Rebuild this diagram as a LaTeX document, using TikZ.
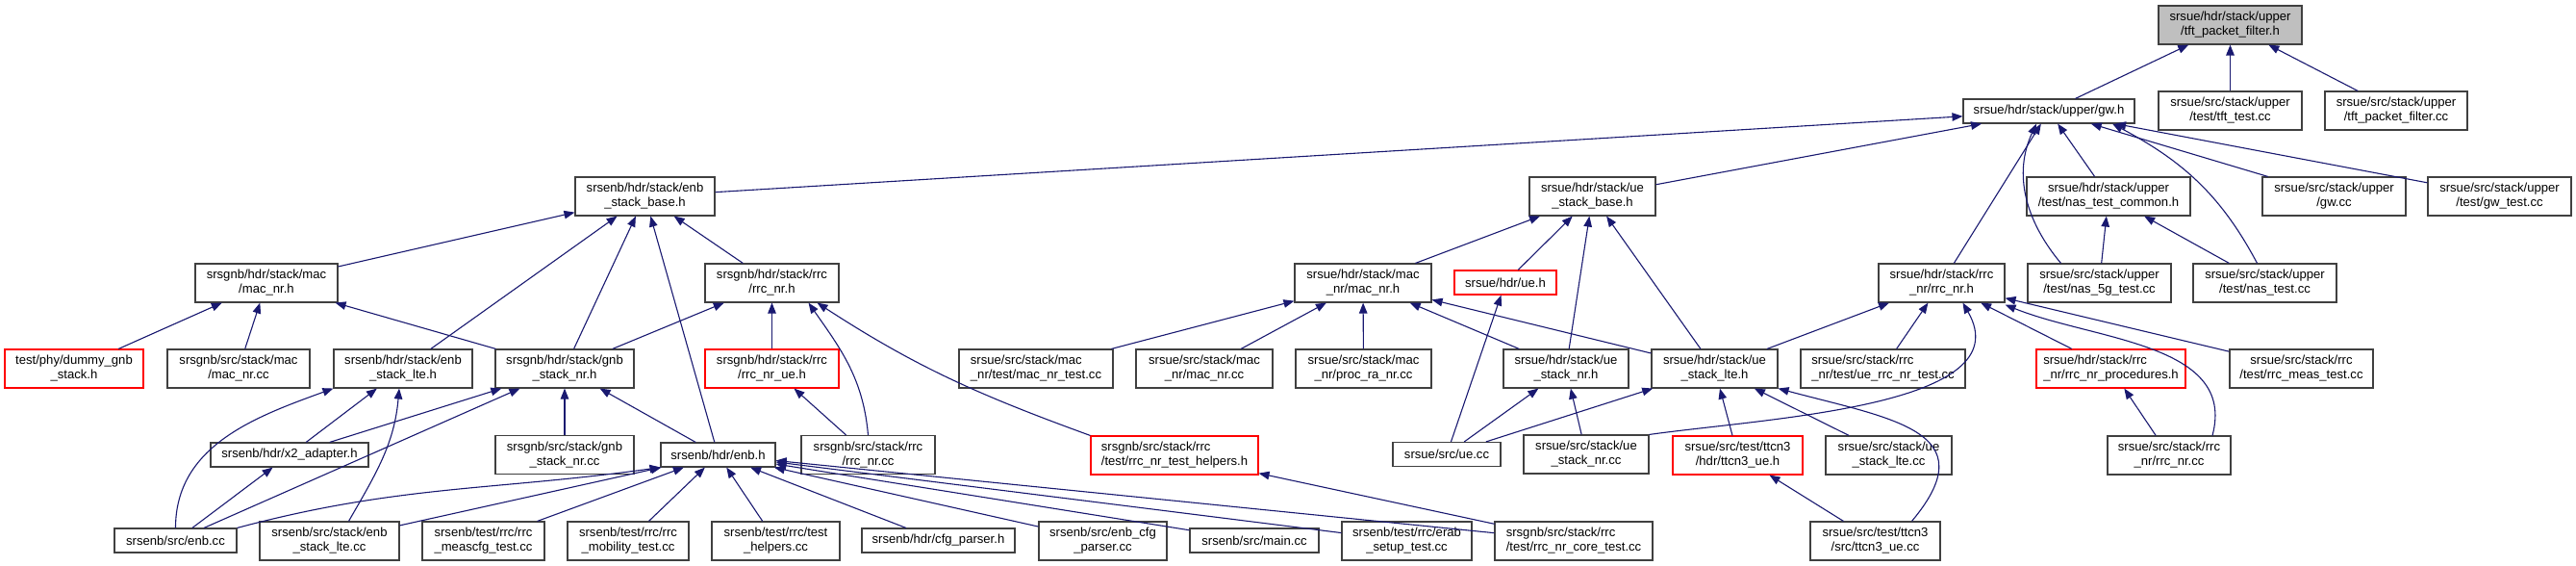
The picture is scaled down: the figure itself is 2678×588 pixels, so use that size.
\documentclass[tikz,border=0pt]{standalone}
\usepackage{fontspec}
\setmainfont{Liberation Sans}
\usetikzlibrary{arrows.meta}
\definecolor{edgeblue}{HTML}{191970}

\begin{document}
\begin{tikzpicture}[x=1pt,y=-1pt,
  file/.style={draw=black!75, fill=white, line width=1.1pt, inner sep=0pt,
    minimum height=40pt, align=center, font=\fontsize{13.1}{15}\selectfont},
  oneline/.style={minimum height=25pt},
  trunc/.style={draw=red},
  root/.style={fill=black!25},
  dep/.style={draw=edgeblue, line width=1.1pt, -{Triangle[length=11pt,width=8.5pt]}}]
  \useasboundingbox (0,0) rectangle (2678,588);

  \node[file, root, minimum width=149pt] (TFT) at (2318.5,26) {srsue/hdr/stack/upper\\/tft\_packet\_filter.h};
  \node[file, minimum width=149pt] (TftTest) at (2318.5,115) {srsue/src/stack/upper\\/test/tft\_test.cc};
  \node[file, minimum width=148pt] (TftCc) at (2491,115) {srsue/src/stack/upper\\/tft\_packet\_filter.cc};
  \node[file, oneline, minimum width=178pt] (GwH) at (2130,115.5) {srsue/hdr/stack/upper/gw.h};

  \node[file, minimum width=145pt] (EnbBase) at (670.5,204) {srsenb/hdr/stack/enb\\\_stack\_base.h};
  \node[file, minimum width=131pt] (UeBase) at (1655.5,204) {srsue/hdr/stack/ue\\\_stack\_base.h};
  \node[file, minimum width=170pt] (NasCommon) at (2192,204) {srsue/hdr/stack/upper\\/test/nas\_test\_common.h};
  \node[file, minimum width=149pt] (GwCc) at (2426.5,204) {srsue/src/stack/upper\\/gw.cc};
  \node[file, minimum width=149pt] (GwTest) at (2598.5,204) {srsue/src/stack/upper\\/test/gw\_test.cc};

  \node[file, minimum width=148pt] (GnbMac) at (277,294) {srsgnb/hdr/stack/mac\\/mac\_nr.h};
  \node[file, minimum width=139pt] (GnbRrc) at (802.5,294) {srsgnb/hdr/stack/rrc\\/rrc\_nr.h};
  \node[file, minimum width=142pt] (UeMac) at (1417,294) {srsue/hdr/stack/mac\\\_nr/mac\_nr.h};
  \node[file, oneline, trunc, minimum width=106pt] (UeH) at (1565,293.5) {srsue/hdr/ue.h};
  \node[file, minimum width=131pt] (UeRrc) at (2018.5,294) {srsue/hdr/stack/rrc\\\_nr/rrc\_nr.h};
  \node[file, minimum width=149pt] (Nas5g) at (2182.5,294) {srsue/src/stack/upper\\/test/nas\_5g\_test.cc};
  \node[file, minimum width=149pt] (NasTest) at (2354.5,294) {srsue/src/stack/upper\\/test/nas\_test.cc};

  \node[file, trunc, minimum width=144pt] (Dummy) at (77,383) {test/phy/dummy\_gnb\\\_stack.h};
  \node[file, minimum width=148pt] (GnbMacCc) at (248,383) {srsgnb/src/stack/mac\\/mac\_nr.cc};
  \node[file, minimum width=144pt] (EnbLte) at (419,383) {srsenb/hdr/stack/enb\\\_stack\_lte.h};
  \node[file, minimum width=144pt] (GnbStack) at (587,383) {srsgnb/hdr/stack/gnb\\\_stack\_nr.h};
  \node[file, trunc, minimum width=139pt] (RrcNrUe) at (802.5,383) {srsgnb/hdr/stack/rrc\\/rrc\_nr\_ue.h};
  \node[file, align=left, minimum width=160pt] (MacNrTest) at (1077,383) {srsue/src/stack/mac\\\_nr/test/mac\_nr\_test.cc};
  \node[file, minimum width=142pt] (UeMacCc) at (1252,383) {srsue/src/stack/mac\\\_nr/mac\_nr.cc};
  \node[file, minimum width=141pt] (ProcRa) at (1417.5,383) {srsue/src/stack/mac\\\_nr/proc\_ra\_nr.cc};
  \node[file, minimum width=130pt] (UeStackNr) at (1628,383) {srsue/hdr/stack/ue\\\_stack\_nr.h};
  \node[file, minimum width=131pt] (UeStackLte) at (1782.5,383) {srsue/hdr/stack/ue\\\_stack\_lte.h};
  \node[file, align=left, minimum width=171pt] (UeRrcTest) at (1957.5,383) {srsue/src/stack/rrc\\\_nr/test/ue\_rrc\_nr\_test.cc};
  \node[file, trunc, align=left, minimum width=155pt] (RrcProc) at (2194.5,383) {srsue/hdr/stack/rrc\\\_nr/rrc\_nr\_procedures.h};
  \node[file, minimum width=149pt] (RrcMeas) at (2392.5,383) {srsue/src/stack/rrc\\/test/rrc\_meas\_test.cc};

  \node[file, oneline, minimum width=164pt] (X2) at (301,472.5) {srsenb/hdr/x2\_adapter.h};
  \node[file, minimum width=144pt] (GnbStackCc) at (587,472.5) {srsgnb/src/stack/gnb\\\_stack\_nr.cc};
  \node[file, oneline, minimum width=119pt] (EnbH) at (746.5,472.5) {srsenb/hdr/enb.h};
  \node[file, minimum width=139pt] (GnbRrcCc) at (902.5,472.5) {srsgnb/src/stack/rrc\\/rrc\_nr.cc};
  \node[file, trunc, align=left, minimum width=174pt] (Helpers) at (1221,473) {srsgnb/src/stack/rrc\\/test/rrc\_nr\_test\_helpers.h};
  \node[file, oneline, minimum width=112pt] (UeCc) at (1504,472) {srsue/src/ue.cc};
  \node[file, minimum width=130pt] (UeStackNrCc) at (1649,472) {srsue/src/stack/ue\\\_stack\_nr.cc};
  \node[file, trunc, minimum width=135pt] (TtcnH) at (1806.5,473) {srsue/src/test/ttcn3\\/hdr/ttcn3\_ue.h};
  \node[file, minimum width=131pt] (UeStackLteCc) at (1963.5,473) {srsue/src/stack/ue\\\_stack\_lte.cc};
  \node[file, minimum width=128pt] (UeRrcCc) at (2255,473) {srsue/src/stack/rrc\\\_nr/rrc\_nr.cc};

  \node[file, oneline, minimum width=127pt] (EnbCc) at (182.5,561.5) {srsenb/src/enb.cc};
  \node[file, minimum width=145pt] (EnbLteCc) at (342.5,562) {srsenb/src/stack/enb\\\_stack\_lte.cc};
  \node[file, minimum width=127pt] (MeasCfg) at (502.5,562) {srsenb/test/rrc/rrc\\\_meascfg\_test.cc};
  \node[file, minimum width=126pt] (Mobility) at (653,562) {srsenb/test/rrc/rrc\\\_mobility\_test.cc};
  \node[file, minimum width=133pt] (TestHelpers) at (806.5,562) {srsenb/test/rrc/test\\\_helpers.cc};
  \node[file, oneline, minimum width=159pt] (CfgParser) at (975.5,561.5) {srsenb/hdr/cfg\_parser.h};
  \node[file, minimum width=133pt] (EnbCfg) at (1146.5,562) {srsenb/src/enb\_cfg\\\_parser.cc};
  \node[file, oneline, minimum width=134pt] (MainCc) at (1304,561.5) {srsenb/src/main.cc};
  \node[file, minimum width=135pt] (Erab) at (1462.5,562) {srsenb/test/rrc/erab\\\_setup\_test.cc};
  \node[file, align=left, minimum width=164pt] (CoreTest) at (1636,562) {srsgnb/src/stack/rrc\\/test/rrc\_nr\_core\_test.cc};
  \node[file, minimum width=135pt] (TtcnCc) at (1949.5,562) {srsue/src/test/ttcn3\\/src/ttcn3\_ue.cc};

  \draw[dep] (GwH) -- (TFT);
  \draw[dep] (TftTest) -- (TFT);
  \draw[dep] (TftCc) -- (TFT);
  \draw[dep] (EnbBase) -- (GwH);
  \draw[dep] (UeBase) -- (GwH);
  \draw[dep] (UeRrc) -- (GwH);
  \draw[dep] (NasCommon) -- (GwH);
  \draw[dep] ([xshift=-40pt]Nas5g.north) to[out=130,in=-115] ([xshift=-13pt]GwH.south);
  \draw[dep] ([xshift=-8pt]NasTest.north) to[out=118,in=-28] ([xshift=66pt]GwH.south);
  \draw[dep] (GwCc) -- (GwH);
  \draw[dep] (GwTest) -- (GwH);

  \draw[dep] (GnbMac) -- (EnbBase);
  \draw[dep] (EnbLte) -- (EnbBase);
  \draw[dep] (GnbStack) -- (EnbBase);
  \draw[dep] (EnbH) -- (EnbBase);
  \draw[dep] (GnbRrc) -- (EnbBase);
  \draw[dep] (Dummy) -- (GnbMac);
  \draw[dep] (GnbMacCc) -- (GnbMac);
  \draw[dep] (GnbStack) -- (GnbMac);
  \draw[dep] (GnbStack) -- (GnbRrc);
  \draw[dep] (RrcNrUe) -- (GnbRrc);
  \draw[dep] (GnbRrcCc.north) to[out=95,in=-55] ([xshift=38pt]GnbRrc.south);
  \draw[dep] (Helpers.north west) to[out=160,in=-33] ([xshift=47pt]GnbRrc.south);
  \draw[dep] (GnbRrcCc) -- (RrcNrUe);

  \draw[dep] (EnbCc.north) to[out=90,in=-160] (EnbLte.south west);
  \draw[dep] (X2) -- (EnbLte);
  \draw[dep] ([xshift=20pt]EnbLteCc.north) to[out=60,in=-95] ([xshift=-4pt]EnbLte.south);
  \draw[dep] (X2) -- (GnbStack);
  \draw[dep] (EnbCc) -- (GnbStack);
  \draw[dep] (GnbStackCc) -- (GnbStack);
  \draw[dep] (EnbH) -- (GnbStack);
  \draw[dep] (EnbCc) -- (X2);
  \draw[dep] (EnbCc.north east) to[out=15,in=-172] (EnbH.south west);
  \draw[dep] (EnbLteCc) -- (EnbH);
  \draw[dep] (MeasCfg) -- (EnbH);
  \draw[dep] (Mobility) -- (EnbH);
  \draw[dep] (TestHelpers) -- (EnbH);
  \draw[dep] (CfgParser) -- (EnbH);
  \draw[dep] (EnbCfg) -- (EnbH);
  \draw[dep] (MainCc) -- (EnbH);
  \draw[dep] (Erab) -- (EnbH);
  \draw[dep] (CoreTest) -- (EnbH);
  \draw[dep] (CoreTest) -- (Helpers);

  \draw[dep] (UeMac) -- (UeBase);
  \draw[dep] (UeH) -- (UeBase);
  \draw[dep] (UeStackNr) -- (UeBase);
  \draw[dep] (UeStackLte) -- (UeBase);
  \draw[dep] (MacNrTest) -- (UeMac);
  \draw[dep] (UeMacCc) -- (UeMac);
  \draw[dep] (ProcRa) -- (UeMac);
  \draw[dep] (UeStackNr) -- (UeMac);
  \draw[dep] (UeStackLte) -- (UeMac);
  \draw[dep] (UeCc) -- (UeH);
  \draw[dep] (UeCc) -- (UeStackNr);
  \draw[dep] (UeStackNrCc) -- (UeStackNr);
  \draw[dep] (UeCc) -- (UeStackLte);
  \draw[dep] (TtcnH) -- (UeStackLte);
  \draw[dep] (UeStackLteCc) -- (UeStackLte);
  \draw[dep] ([xshift=38pt]TtcnCc.north) to[out=50,in=-15,looseness=1.6] (UeStackLte.south east);
  \draw[dep] (TtcnCc) -- (TtcnH);

  \draw[dep] (UeStackLte) -- (UeRrc);
  \draw[dep] (UeRrcTest) -- (UeRrc);
  \draw[dep] (UeStackNrCc.north east) to[out=8,in=-60,looseness=0.9] ([xshift=22pt]UeRrc.south);
  \draw[dep] (RrcProc) -- (UeRrc);
  \draw[dep] (RrcMeas) -- (UeRrc);
  \draw[dep] ([xshift=45pt]UeRrcCc.north) to[out=75,in=-22] ([yshift=-2pt]UeRrc.south east);
  \draw[dep] (UeRrcCc) -- (RrcProc);
  \draw[dep] (Nas5g) -- (NasCommon);
  \draw[dep] (NasTest) -- (NasCommon);
\end{tikzpicture}
\end{document}
